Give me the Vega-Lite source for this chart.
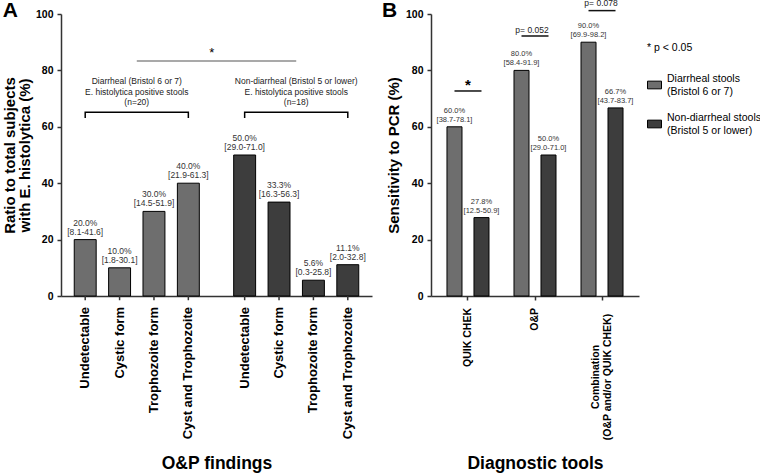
{
  "$schema": "https://vega.github.io/schema/vega-lite/v6.json",
  "autosize": {"type": "pad"},
  "padding": {"left": 2, "top": -2, "right": 0, "bottom": 0},
  "background": "white",
  "bounds": "flush",
  "spacing": 59,
  "config": {
    "font": "Liberation Sans",
    "view": {"stroke": null},
    "axis": {"grid": false, "domainColor": "#333333", "domainWidth": 1.5, "tickColor": "#333333", "tickWidth": 1.5, "labelColor": "#000000", "titleColor": "#000000", "labelFont": "Liberation Sans", "titleFont": "Liberation Sans"},
    "text": {"font": "Liberation Sans"},
    "legend": {"labelFont": "Liberation Sans", "titleFont": "Liberation Sans"}
  },
  "resolve": {"scale": {"color": "independent", "x": "independent", "y": "independent", "xOffset": "independent"}, "legend": {"color": "independent"}},
  "datasets": {
    "barsA": [
      {"group": "Diarrheal", "finding": "Undetectable", "value": 20.0, "lo": 8.1, "hi": 41.6},
      {"group": "Diarrheal", "finding": "Cystic form", "value": 10.0, "lo": 1.8, "hi": 30.1},
      {"group": "Diarrheal", "finding": "Trophozoite form", "value": 30.0, "lo": 14.5, "hi": 51.9},
      {"group": "Diarrheal", "finding": "Cyst and Trophozoite", "value": 40.0, "lo": 21.9, "hi": 61.3},
      {"group": "Non-diarrheal", "finding": "Undetectable", "value": 50.0, "lo": 29.0, "hi": 71.0},
      {"group": "Non-diarrheal", "finding": "Cystic form", "value": 33.3, "lo": 16.3, "hi": 56.3},
      {"group": "Non-diarrheal", "finding": "Trophozoite form", "value": 5.6, "lo": 0.3, "hi": 25.8},
      {"group": "Non-diarrheal", "finding": "Cyst and Trophozoite", "value": 11.1, "lo": 2.0, "hi": 32.8}
    ],
    "bracketsA": [
      {"group": "Diarrheal", "finding": "Undetectable", "yv": 63.1, "k": 1},
      {"group": "Diarrheal", "finding": "Undetectable", "yv": 65.2, "k": 2},
      {"group": "Diarrheal", "finding": "Cyst and Trophozoite", "yv": 65.2, "k": 3},
      {"group": "Diarrheal", "finding": "Cyst and Trophozoite", "yv": 63.1, "k": 4},
      {"group": "Non-diarrheal", "finding": "Undetectable", "yv": 63.1, "k": 1},
      {"group": "Non-diarrheal", "finding": "Undetectable", "yv": 65.2, "k": 2},
      {"group": "Non-diarrheal", "finding": "Cyst and Trophozoite", "yv": 65.2, "k": 3},
      {"group": "Non-diarrheal", "finding": "Cyst and Trophozoite", "yv": 63.1, "k": 4}
    ],
    "notesA": [
      {"group": "Diarrheal", "txt": ["Diarrheal (Bristol 6 or 7)", "E. histolytica positive stools", "(n=20)"]},
      {"group": "Non-diarrheal", "txt": ["Non-diarrheal (Bristol 5 or lower)", "E. histolytica positive stools", "(n=18)"]}
    ],
    "barsB": [
      {"tool": "QUIK CHEK", "stool": "Diarrheal", "value": 60.0, "lo": 38.7, "hi": 78.1},
      {"tool": "QUIK CHEK", "stool": "Non-diarrheal", "value": 27.8, "lo": 12.5, "hi": 50.9},
      {"tool": "O&P", "stool": "Diarrheal", "value": 80.0, "lo": 58.4, "hi": 91.9},
      {"tool": "O&P", "stool": "Non-diarrheal", "value": 50.0, "lo": 29.0, "hi": 71.0},
      {"tool": "Combination", "stool": "Diarrheal", "value": 90.0, "lo": 69.9, "hi": 98.2},
      {"tool": "Combination", "stool": "Non-diarrheal", "value": 66.7, "lo": 43.7, "hi": 83.7}
    ],
    "sigB": [
      {"tool": "QUIK CHEK", "stool": "Diarrheal", "yv": 72.7},
      {"tool": "QUIK CHEK", "stool": "Non-diarrheal", "yv": 72.7},
      {"tool": "O&P", "stool": "Diarrheal", "yv": 92.2},
      {"tool": "O&P", "stool": "Non-diarrheal", "yv": 92.2},
      {"tool": "Combination", "stool": "Diarrheal", "yv": 101.2},
      {"tool": "Combination", "stool": "Non-diarrheal", "yv": 101.2}
    ],
    "toolsB": [
      {"tool": "QUIK CHEK"},
      {"tool": "O&P"}
    ]
  },
  "hconcat": [
    {
      "width": 311,
      "height": 282,
      "layer": [
        {
          "data": {"name": "barsA"},
          "mark": {"type": "bar", "stroke": "#000000", "strokeWidth": 1},
          "encoding": {
            "x": {"field": "group", "type": "nominal", "scale": {"domain": ["Diarrheal", "Non-diarrheal"], "paddingInner": 0.1375, "paddingOuter": 0.044},
              "axis": {"labels": false, "ticks": false, "title": "O&P findings", "titleFontSize": 17.5, "titleFontWeight": "bold", "titlePadding": 158}},
            "xOffset": {"field": "finding", "type": "nominal", "scale": {"domain": ["Undetectable", "Cystic form", "Trophozoite form", "Cyst and Trophozoite"], "paddingInner": 0.362, "paddingOuter": 0.181}},
            "y": {"field": "value", "type": "quantitative", "scale": {"domain": [0, 100], "nice": false},
              "axis": {"values": [0, 20, 40, 60, 80, 100], "tickSize": 4, "labelFontSize": 10.5, "labelFontWeight": "bold", "labelPadding": 4,
                "title": ["Ratio to total subjects", "with E. histolytica (%)"], "titleFontSize": 15, "titleFontWeight": "bold", "titleLineHeight": 15, "titlePadding": 3}},
            "color": {"field": "group", "type": "nominal", "scale": {"domain": ["Diarrheal", "Non-diarrheal"], "range": ["#6e6e6e", "#3d3d3d"]}, "legend": null}
          }
        },
        {
          "data": {"name": "barsA"},
          "transform": [{"calculate": "[format(datum.value, '.1f') + '%', '[' + format(datum.lo, '.1f') + '-' + format(datum.hi, '.1f') + ']']", "as": "lab"}],
          "mark": {"type": "text", "baseline": "bottom", "dy": -12, "fontSize": 8.5, "lineHeight": 9, "color": "#333333"},
          "encoding": {
            "x": {"field": "group", "type": "nominal"},
            "xOffset": {"field": "finding", "type": "nominal"},
            "y": {"field": "value", "type": "quantitative"},
            "text": {"field": "lab"}
          }
        },
        {
          "data": {"name": "barsA"},
          "mark": {"type": "rule", "color": "#333333", "strokeWidth": 1.5},
          "encoding": {
            "x": {"field": "group", "type": "nominal"},
            "xOffset": {"field": "finding", "type": "nominal"},
            "y": {"datum": 0},
            "y2": {"datum": -1.5}
          }
        },
        {
          "data": {"name": "barsA"},
          "mark": {"type": "text", "angle": 270, "align": "right", "baseline": "middle", "dx": -11, "fontSize": 13, "fontWeight": "bold", "color": "#000000"},
          "encoding": {
            "x": {"field": "group", "type": "nominal"},
            "xOffset": {"field": "finding", "type": "nominal"},
            "y": {"datum": 0},
            "text": {"field": "finding"}
          }
        },
        {
          "data": {"name": "bracketsA"},
          "mark": {"type": "line", "color": "#000000", "strokeWidth": 1.5},
          "encoding": {
            "x": {"field": "group", "type": "nominal"},
            "xOffset": {"field": "finding", "type": "nominal"},
            "y": {"field": "yv", "type": "quantitative"},
            "detail": {"field": "group"},
            "order": {"field": "k"}
          }
        },
        {
          "data": {"name": "notesA"},
          "mark": {"type": "text", "baseline": "middle", "fontSize": 8.5, "lineHeight": 10.5, "color": "#222222"},
          "encoding": {
            "x": {"field": "group", "type": "nominal"},
            "y": {"datum": 76.2},
            "text": {"field": "txt"}
          }
        },
        {
          "data": {"values": [{}]},
          "mark": {"type": "rule", "color": "#8c8c8c", "strokeWidth": 1.5},
          "encoding": {
            "x": {"datum": "Diarrheal"},
            "x2": {"datum": "Non-diarrheal"},
            "y": {"datum": 83.3}
          }
        },
        {
          "data": {"values": [{}]},
          "mark": {"type": "text", "dx": 75, "baseline": "middle", "fontSize": 13, "color": "#000000"},
          "encoding": {
            "x": {"datum": "Diarrheal"},
            "y": {"datum": 86.0},
            "text": {"value": "*"}
          }
        },
        {
          "data": {"values": [{}]},
          "mark": {"type": "text", "align": "left", "baseline": "alphabetic", "dx": -134, "dy": 3, "fontSize": 21, "fontWeight": "bold", "color": "#000000"},
          "encoding": {
            "x": {"datum": "Diarrheal"},
            "y": {"datum": 100},
            "text": {"value": "A"}
          }
        }
      ]
    },
    {
      "width": 208,
      "height": 282,
      "layer": [
        {
          "data": {"name": "barsB"},
          "mark": {"type": "bar", "stroke": "#000000", "strokeWidth": 1},
          "encoding": {
            "x": {"field": "tool", "type": "nominal", "scale": {"domain": ["QUIK CHEK", "O&P", "Combination"], "paddingInner": 0.373, "paddingOuter": 0.2385},
              "axis": {"labels": false, "tickSize": 4, "title": "Diagnostic tools", "titleFontSize": 17.5, "titleFontWeight": "bold", "titlePadding": 154}},
            "xOffset": {"field": "stool", "type": "nominal", "scale": {"domain": ["Diarrheal", "Non-diarrheal"], "paddingInner": 0.444, "paddingOuter": 0}},
            "y": {"field": "value", "type": "quantitative", "scale": {"domain": [0, 100], "nice": false},
              "axis": {"values": [0, 20, 40, 60, 80, 100], "tickSize": 4, "labelFontSize": 10.5, "labelFontWeight": "bold", "labelPadding": 4,
                "title": "Sensitivity to PCR (%)", "titleFontSize": 15, "titleFontWeight": "bold", "titlePadding": 4}},
            "color": {"field": "stool", "type": "nominal", "scale": {"domain": ["Diarrheal", "Non-diarrheal"], "range": ["#6e6e6e", "#3d3d3d"]},
              "legend": {"orient": "none", "legendX": 216, "legendY": 29, "title": "* p < 0.05", "titleFontSize": 10.5, "titleFontWeight": "normal", "titleColor": "#000000", "titlePadding": 24,
                "labelExpr": "datum.value == 'Diarrheal' ? ['Diarrheal stools', '(Bristol 6 or 7)'] : ['Non-diarrheal stools', '(Bristol 5 or lower)']",
                "labelFontSize": 10.5, "labelColor": "#000000", "labelLimit": 200, "labelOffset": 5, "rowPadding": 15, "labelBaseline": "line-bottom",
                "symbolType": "M-1,-0.55H1V0.55H-1Z", "symbolSize": 196, "symbolStrokeColor": "#000000", "symbolStrokeWidth": 1}}
          }
        },
        {
          "data": {"name": "barsB"},
          "transform": [{"calculate": "[format(datum.value, '.1f') + '%', '[' + format(datum.lo, '.1f') + '-' + format(datum.hi, '.1f') + ']']", "as": "lab"}],
          "mark": {"type": "text", "baseline": "bottom", "dy": -12, "fontSize": 7.5, "lineHeight": 9, "color": "#333333"},
          "encoding": {
            "x": {"field": "tool", "type": "nominal"},
            "xOffset": {"field": "stool", "type": "nominal"},
            "y": {"field": "value", "type": "quantitative"},
            "text": {"field": "lab"}
          }
        },
        {
          "data": {"name": "toolsB"},
          "mark": {"type": "text", "angle": 270, "align": "right", "baseline": "middle", "dx": -12, "fontSize": 10.5, "fontWeight": "bold", "color": "#000000"},
          "encoding": {
            "x": {"field": "tool", "type": "nominal"},
            "y": {"datum": 0},
            "text": {"field": "tool"}
          }
        },
        {
          "data": {"values": [{}]},
          "mark": {"type": "text", "angle": 270, "align": "center", "baseline": "middle", "dx": -81, "dy": -6, "lineHeight": 12, "fontSize": 10.5, "fontWeight": "bold", "color": "#000000"},
          "encoding": {
            "x": {"datum": "Combination"},
            "y": {"datum": 0},
            "text": {"value": ["Combination", "(O&P and/or QUIK CHEK)"]}
          }
        },
        {
          "data": {"name": "sigB"},
          "mark": {"type": "line", "color": "#111111", "strokeWidth": 1.5},
          "encoding": {
            "x": {"field": "tool", "type": "nominal"},
            "xOffset": {"field": "stool", "type": "nominal"},
            "y": {"field": "yv", "type": "quantitative"},
            "detail": {"field": "tool"}
          }
        },
        {
          "data": {"values": [{}]},
          "mark": {"type": "text", "baseline": "middle", "fontSize": 15, "fontWeight": "bold", "color": "#000000"},
          "encoding": {"x": {"datum": "QUIK CHEK"}, "y": {"datum": 74.7}, "text": {"value": "*"}}
        },
        {
          "data": {"values": [{}]},
          "mark": {"type": "text", "baseline": "middle", "dx": -3, "fontSize": 8.5, "color": "#222222"},
          "encoding": {"x": {"datum": "O&P"}, "y": {"datum": 94.3}, "text": {"value": "p= 0.052"}}
        },
        {
          "data": {"values": [{}]},
          "mark": {"type": "text", "baseline": "middle", "dx": -1, "fontSize": 8.5, "color": "#222222"},
          "encoding": {"x": {"datum": "Combination"}, "y": {"datum": 104.0}, "text": {"value": "p= 0.078"}}
        },
        {
          "data": {"values": [{}]},
          "mark": {"type": "text", "align": "left", "baseline": "alphabetic", "dx": -86, "dy": 3, "fontSize": 21, "fontWeight": "bold", "color": "#000000"},
          "encoding": {
            "x": {"datum": "QUIK CHEK"},
            "y": {"datum": 100},
            "text": {"value": "B"}
          }
        }
      ]
    }
  ]
}
